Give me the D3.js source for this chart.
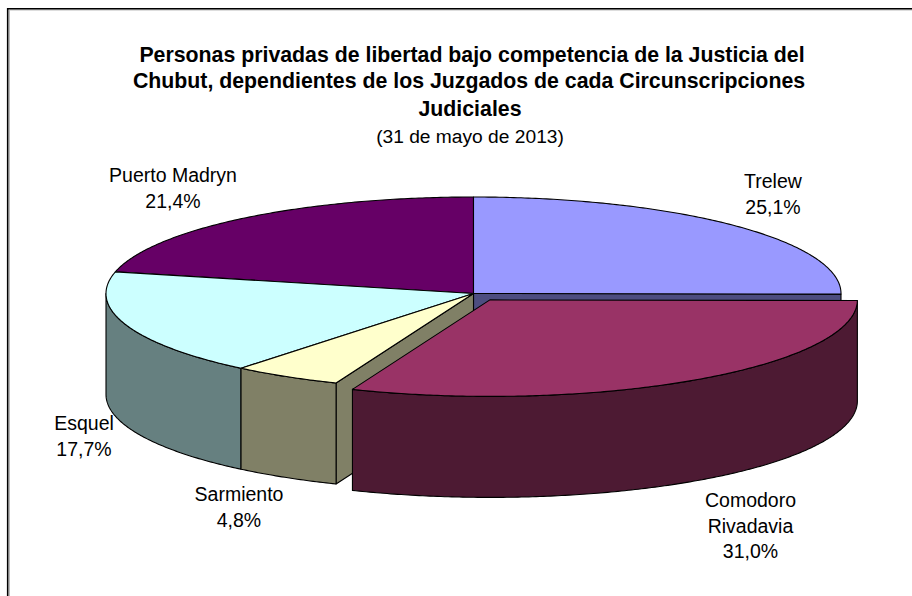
<!DOCTYPE html>
<html><head><meta charset="utf-8">
<script src="https://cdn.jsdelivr.net/npm/d3@7/dist/d3.min.js"></script>
<style>html,body{margin:0;padding:0;background:#fff}svg{display:block}text{font-family:"Liberation Sans",Arial,sans-serif;fill:#000}</style>
</head><body><div id="c"></div>
<script>
const categories = ["Trelew","Comodoro Rivadavia","Sarmiento","Esquel","Puerto Madryn"];
const values = [25.1,31.0,4.8,17.7,21.4];
const valueLabels = ["25,1%","31,0%","4,8%","17,7%","21,4%"];
const topColors = ["#9999FF","#993366","#FFFFCC","#CCFFFF","#660066"];
const sideColors = ["#4D4D80","#4D1A33","#808066","#668080","#330033"];
const labelLines = [["Trelew","25,1%"],["Comodoro","Rivadavia","31,0%"],["Sarmiento","4,8%"],["Esquel","17,7%"],["Puerto Madryn","21,4%"]];
const labelAnchors = [[773,188],[750.5,507],[239,501],[84,430],[173,182]];
const titleLines = ["Personas privadas de libertad bajo competencia de la Justicia del","Chubut, dependientes de los Juzgados de cada Circunscripciones","Judiciales"];
const subtitle = "(31 de mayo de 2013)";
const cx=473.5, cy=293.5, rx=367.5, ry=96.5, depth=101, explodeR=0.08;

const svg=d3.select("#c").append("svg").attr("width",912).attr("height",596);
svg.append("path").attr("d","M8.5,596V9H912").attr("fill","none").attr("stroke","#bbb").attr("stroke-width",1).attr("transform","translate(1,1)");
svg.append("path").attr("d","M7.7,596V8.7H912").attr("fill","none").attr("stroke","#000").attr("stroke-width",1.6);

const slices=d3.pie().sort(null).value((d,i)=>d)(values);
const x=d3.scaleLinear().domain([-1,1]).range([cx-rx,cx+rx]);
const y=d3.scaleLinear().domain([-1,1]).range([cy-ry,cy+ry]);
const pt=(a,dx,dy,h)=>[x(Math.sin(a))+dx,y(-Math.cos(a))+dy+h];
const offset=(s,i)=>{ if(i!==1) return [0,0]; const m=(s.startAngle+s.endAngle)/2;
  return [x(Math.sin(m)*explodeR)-x(0), y(-Math.cos(m)*explodeR)-y(0)]; };
const line=d3.line();
const arcPts=(a0,a1,dx,dy,h)=>{const n=Math.max(2,Math.ceil((a1-a0)/0.01));return d3.range(n+1).map(k=>pt(a0+(a1-a0)*k/n,dx,dy,h));};
const stroke={stroke:"#000","stroke-width":1.1,"stroke-linejoin":"round"};
function draw(d,fill){const p=svg.append("path").attr("d",d).attr("fill",fill);Object.entries(stroke).forEach(([k,v])=>p.attr(k,v));}
function radialWall(a,i){const [dx,dy]=offset(slices[i],i);const c=[cx+dx,cy+dy],e=pt(a,dx,dy,0),e2=pt(a,dx,dy,depth),c2=[c[0],c[1]+depth];
  draw(line([c,e,e2,c2])+"Z",sideColors[i]);}
function outerWall(i){const s=slices[i];const [dx,dy]=offset(s,i);
  const a0=Math.max(s.startAngle,Math.PI/2),a1=Math.min(s.endAngle,3*Math.PI/2);if(a1<=a0)return;
  const top=arcPts(a0,a1,dx,dy,0),bot=arcPts(a0,a1,dx,dy,depth).reverse();draw(line(top.concat(bot))+"Z",sideColors[i]);}
function topFace(i){const s=slices[i];const [dx,dy]=offset(s,i);
  const c=[cx+dx,cy+dy];draw(line([c].concat(arcPts(s.startAngle,s.endAngle,dx,dy,0)))+"Z",topColors[i]);}

radialWall(slices[0].endAngle,0);
radialWall(slices[2].startAngle,2);
outerWall(3);outerWall(2);
[4,0,3,2].forEach(topFace);
outerWall(1);topFace(1);

const title=svg.append("g").attr("text-anchor","middle");
titleLines.forEach((t,i)=>title.append("text").attr("x",[472,469,470][i]).attr("y",[62,88,116][i]).attr("font-size",21.3).attr("font-weight","bold").text(t));
svg.append("text").attr("x",470).attr("y",143).attr("text-anchor","middle").attr("font-size",19.2).text(subtitle);
labelLines.forEach((ls,i)=>{const g=svg.append("g").attr("text-anchor","middle");
  ls.forEach((t,k)=>g.append("text").attr("x",labelAnchors[i][0]).attr("y",labelAnchors[i][1]+k*25.7).attr("font-size",19.5).text(t));});
</script></body></html>
